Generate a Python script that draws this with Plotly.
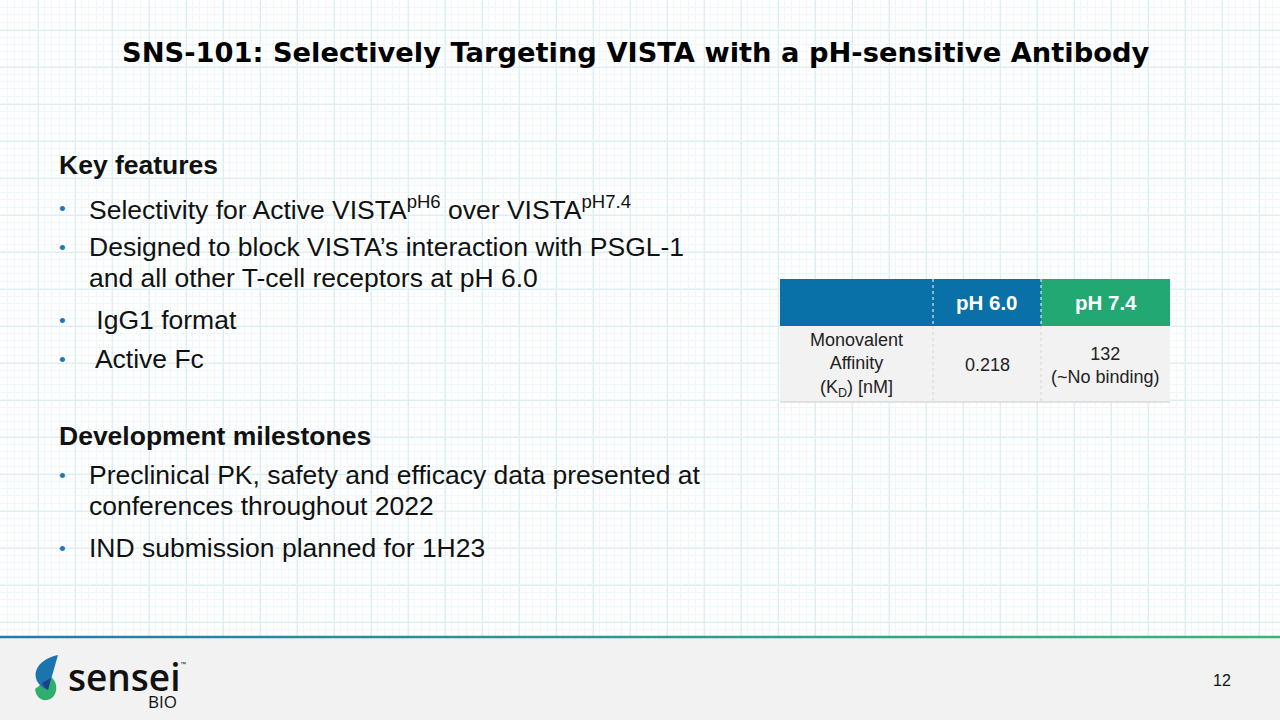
import numpy as np
import plotly.graph_objects as go

W, H = 1280, 720

# ---- slide content ----
title = "SNS-101: Selectively Targeting VISTA with a pH-sensitive Antibody"

headings = ["Key features", "Development milestones"]
features = [
    "Selectivity for Active VISTA<sup>pH6</sup> over VISTA<sup>pH7.4</sup>",
    "Designed to block VISTA’s interaction with PSGL-1<br>and all other T-cell receptors at pH 6.0",
    " IgG1 format",
    " Active Fc",
]
milestones = [
    "Preclinical PK, safety and efficacy data presented at<br>conferences throughout 2022",
    "IND submission planned for 1H23",
]

table_header = ["", "pH 6.0", "pH 7.4"]
table_row_label = ["Monovalent<br>Affinity<br>(K<sub>D</sub>) [nM]"]
table_ph60 = ["0.218"]
table_ph74 = ["132<br>(~No binding)"]

page_number = "12"

# colours
blue = "#0a71a8"
green = "#22a873"
bullet_col = "#1f78b0"
text_col = "#111111"
font = "Liberation Sans, Arial, sans-serif"

fig = go.Figure()

# invisible trace so the pixel-space axes exist
fig.add_trace(go.Scatter(x=[0, W], y=[0, H], mode="markers",
                         marker=dict(opacity=0), hoverinfo="skip", showlegend=False))

annotations = []
shapes = []

# title
annotations.append(dict(x=635, y=52, text="<b>%s</b>" % title, showarrow=False,
                        xanchor="center", yanchor="middle",
                        font=dict(family="DejaVu Sans", size=27.3, color="#000000")))

# headings
for txt, yy in zip(headings, [165, 436]):
    annotations.append(dict(x=57, y=yy, text="<b>%s</b>" % txt, showarrow=False,
                            xanchor="left", yanchor="middle",
                            font=dict(family=font, size=26.5, color=text_col)))

# bullets (one annotation per text line, 31px line pitch)
feature_y = [208, 247, 320, 359]
milestone_y = [475, 548]
for txt, yy in list(zip(features, feature_y)) + list(zip(milestones, milestone_y)):
    annotations.append(dict(x=62, y=yy, text="•", showarrow=False,
                            xanchor="center", yanchor="middle",
                            font=dict(family=font, size=19, color=bullet_col)))
    for i, line in enumerate(txt.split("<br>")):
        annotations.append(dict(x=87, y=yy + 31 * i, text=line, showarrow=False,
                                xanchor="left", yanchor="middle",
                                font=dict(family=font, size=26.5, color=text_col)))

# ---- table ----
col_edges = [780, 933, 1041, 1170]
row_edges = [279, 326, 402]
header_fill = [blue, blue, green]
body_cols = [table_row_label, table_ph60, table_ph74]

for j in range(3):
    x0, x1 = col_edges[j], col_edges[j + 1]
    shapes.append(dict(type="rect", xref="x", yref="y", x0=x0, x1=x1,
                       y0=row_edges[0], y1=row_edges[1], fillcolor=header_fill[j],
                       line=dict(width=0), layer="above"))
    shapes.append(dict(type="rect", xref="x", yref="y", x0=x0, x1=x1,
                       y0=row_edges[1], y1=row_edges[2], fillcolor="#f2f2f2",
                       line=dict(width=0), layer="above"))
    if table_header[j]:
        annotations.append(dict(x=(x0 + x1) / 2, y=(row_edges[0] + row_edges[1]) / 2,
                                text="<b>%s</b>" % table_header[j], showarrow=False,
                                xanchor="center", yanchor="middle",
                                font=dict(family=font, size=20.5, color="white")))
    annotations.append(dict(x=(x0 + x1) / 2, y=(row_edges[1] + row_edges[2]) / 2 + 1,
                            text=body_cols[j][0], showarrow=False, align="center",
                            xanchor="center", yanchor="middle",
                            font=dict(family=font, size=18, color="#222222")))

# dotted separators between columns
for x in col_edges[1:-1]:
    shapes.append(dict(type="line", xref="x", yref="y", x0=x, x1=x,
                       y0=row_edges[0], y1=row_edges[1],
                       line=dict(color="white", width=1, dash="dot"), layer="above"))
    shapes.append(dict(type="line", xref="x", yref="y", x0=x, x1=x,
                       y0=row_edges[1], y1=row_edges[2],
                       line=dict(color="#d4d4d4", width=1, dash="dot"), layer="above"))
shapes.append(dict(type="line", xref="x", yref="y", x0=col_edges[0], x1=col_edges[-1],
                   y0=row_edges[2], y1=row_edges[2],
                   line=dict(color="#d9d9d9", width=1.5), layer="above"))

# ---- footer ----
annotations.append(dict(x=66, y=676, text="sensei", showarrow=False, height=30,
                        xanchor="left", yanchor="middle",
                        font=dict(family="Open Sans", size=37, color="#111111", weight=600)))
annotations.append(dict(x=178, y=664, text="™", showarrow=False,
                        xanchor="left", yanchor="middle",
                        font=dict(family=font, size=6, color="#111111")))
annotations.append(dict(x=179, y=701, text="BIO", showarrow=False, height=17,
                        xanchor="right", yanchor="middle",
                        font=dict(family="Open Sans", size=17, color="#111111")))
annotations.append(dict(x=1222, y=680, text=page_number, showarrow=False,
                        xanchor="center", yanchor="middle",
                        font=dict(family=font, size=16, color="#111111")))

shapes.append(dict(type="rect", xref="x", yref="y", x0=0, x1=W, y0=637, y1=H,
                   fillcolor="#f2f2f2", line=dict(width=0), layer="above"))
# gradient rule above the footer
n_seg = 40
c0 = np.array([38, 124, 168])
c1 = np.array([60, 180, 122])
for i in range(n_seg):
    t = i / (n_seg - 1)
    c = (c0 * (1 - t) + c1 * t).astype(int)
    shapes.append(dict(type="line", xref="x", yref="y",
                       x0=W * i / n_seg, x1=W * (i + 1) / n_seg, y0=637, y1=637,
                       line=dict(color="rgb(%d,%d,%d)" % tuple(c), width=2.5), layer="above"))
# logo mark
shapes.append(dict(type="path", xref="x", yref="y", layer="above",
                   path="M 35,689 L 51,677 C 59,683 58,698 47,700 C 40,701 36,696 35,689 Z",
                   fillcolor="#2fae6e", line=dict(width=0)))
shapes.append(dict(type="path", xref="x", yref="y", layer="above",
                   path="M 58,655 L 48,690 C 30,684 30,661 58,655 Z",
                   fillcolor="#1b74ad", line=dict(width=0)))
shapes.append(dict(type="path", xref="x", yref="y", layer="above",
                   path="M 51,678 L 48,690 C 45,688 43,686 42,683 Z",
                   fillcolor="#1d3f8c", line=dict(width=0)))

fig.update_layout(
    width=W, height=H,
    margin=dict(l=0, r=0, t=0, b=0),
    paper_bgcolor="white", plot_bgcolor="white",
    showlegend=False,
    xaxis=dict(range=[0, W], showticklabels=False, zeroline=False, ticks="",
               showgrid=True, tick0=1, dtick=37, gridcolor="#dcf0f4", gridwidth=1,
               minor=dict(dtick=7.4, showgrid=True, gridcolor="#eef8fa"), fixedrange=True),
    yaxis=dict(range=[H, 0], showticklabels=False, zeroline=False, ticks="",
               showgrid=True, tick0=30, dtick=37, gridcolor="#dcf0f4", gridwidth=1,
               minor=dict(dtick=7.4, showgrid=True, gridcolor="#eef8fa"), fixedrange=True),
    annotations=annotations,
    shapes=shapes,
)

fig.write_html("out.html", config={"displayModeBar": False},
               post_script="document.body.style.margin='0px';")
